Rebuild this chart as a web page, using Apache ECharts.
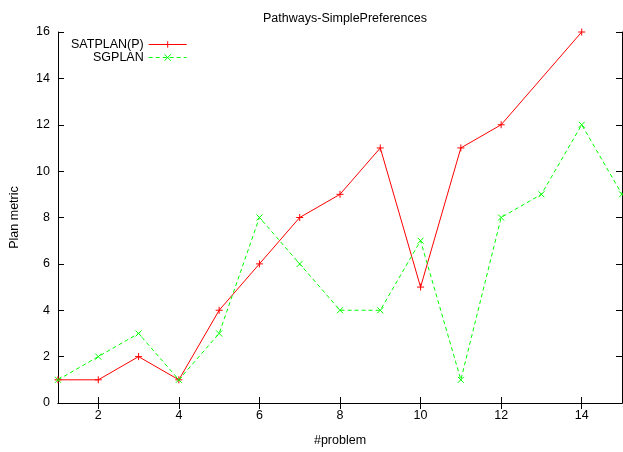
<!DOCTYPE html>
<html><head><meta charset="utf-8">
<script src="https://cdn.jsdelivr.net/npm/echarts@6/dist/echarts.min.js"></script>
<style>html,body{margin:0;padding:0;background:#fff;overflow:hidden}#c{width:623px;height:452px}</style>
</head><body><div id="c"></div>
<script>
var satplanX = [1, 2, 3, 4, 5, 6, 7, 8, 9, 10, 11, 12, 14];
var satplanY = [1, 1, 2, 1, 4, 6, 8, 9, 11, 5, 11, 12, 16];
var sgplanX = [1, 2, 3, 4, 5, 6, 7, 8, 9, 10, 11, 12, 13, 14, 15];
var sgplanY = [1, 2, 3, 1, 3, 8, 6, 4, 4, 7, 1, 8, 9, 12, 9];
var xTicks = [2, 4, 6, 8, 10, 12, 14];
var yTicks = [0, 2, 4, 6, 8, 10, 12, 14, 16];

var font = 'Liberation Sans, Arial, Helvetica, sans-serif';
var plusPath = 'path://M0,5L10,5M5,0L5,10';
var crossPath = 'path://M0,0L10,10M10,0L0,10';
function pairs(xs, ys){ return xs.map(function(x,i){return [x, ys[i]];}); }

var chart = echarts.init(document.getElementById('c'), null, {renderer:'canvas', width:623, height:452});
var axisLine = {show:true, lineStyle:{color:'#000', width:1}};
var fs = 12.5;
chart.setOption({
  animation:false,
  backgroundColor:'#fff',
  title:{text:'Pathways-SimplePreferences', left:340, top:7, textAlign:'center',
    textStyle:{fontFamily:font, fontSize:fs, fontWeight:'normal', color:'#000'}},
  legend:{orient:'vertical', left:66, top:33, align:'right', itemGap:0, itemWidth:38, itemHeight:8,
    textStyle:{fontFamily:font, fontSize:fs, color:'#000', lineHeight:13},
    data:[{name:'SATPLAN(P)', lineStyle:{width:1}, itemStyle:{borderWidth:1}},
          {name:'SGPLAN', lineStyle:{width:1}, itemStyle:{borderWidth:1}}]},
  grid:{left:58, right:1, top:32, bottom:42},
  xAxis:[{type:'value', min:1, max:15, interval:1,
    name:'#problem', nameLocation:'middle', nameGap:31,
    nameTextStyle:{fontFamily:font, fontSize:fs, color:'#000'},
    axisLine:axisLine,
    axisTick:{show:true, inside:true, length:6, lineStyle:{color:'#000'},
      customValues:xTicks},
    axisLabel:{color:'#000', fontFamily:font, fontSize:fs, margin:6, customValues:xTicks},
    splitLine:{show:false}},
   {type:'value', min:1, max:15, position:'top',
    axisLine:axisLine,
    axisTick:{show:true, inside:true, length:6, lineStyle:{color:'#000'}, customValues:xTicks},
    axisLabel:{show:false}, splitLine:{show:false}}],
  yAxis:[{type:'value', min:0, max:16, interval:2,
    name:'Plan metric', nameLocation:'middle', nameGap:37, nameRotate:90,
    nameTextStyle:{fontFamily:font, fontSize:fs, color:'#000'},
    axisLine:axisLine,
    axisTick:{show:true, inside:true, length:6, lineStyle:{color:'#000'}},
    axisLabel:{color:'#000', fontFamily:font, fontSize:fs, margin:8},
    splitLine:{show:false}},
   {type:'value', min:0, max:16, interval:2, position:'right',
    axisLine:axisLine,
    axisTick:{show:true, inside:true, length:6, lineStyle:{color:'#000'}},
    axisLabel:{show:false}, splitLine:{show:false}}],
  series:[
    {name:'SATPLAN(P)', type:'line', data:pairs(satplanX, satplanY),
     symbol:plusPath, symbolSize:7,
     lineStyle:{color:'#ff0000', width:1},
     itemStyle:{color:'#ff0000', borderColor:'#ff0000', borderWidth:1}},
    {name:'SGPLAN', type:'line', data:pairs(sgplanX, sgplanY),
     symbol:crossPath, symbolSize:6,
     lineStyle:{color:'#00ff00', width:1, type:[4,3]},
     itemStyle:{color:'#00ff00', borderColor:'#00ff00', borderWidth:1}}
  ]
});
</script></body></html>
